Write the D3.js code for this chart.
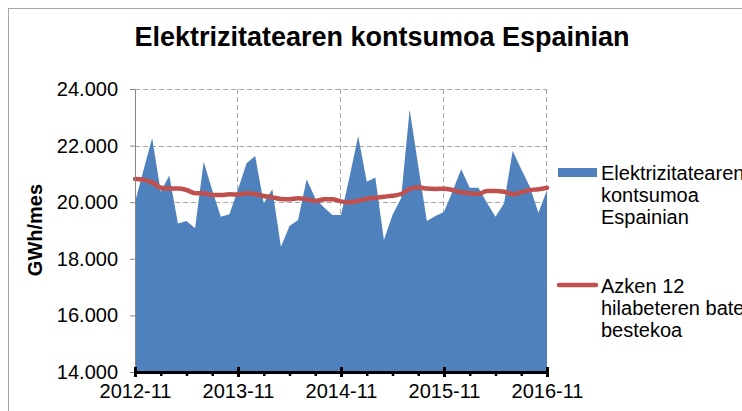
<!DOCTYPE html>
<html>
<head>
<meta charset="utf-8">
<script src="https://cdn.jsdelivr.net/npm/d3@7"></script>
<style>
  body { margin: 0; background: #fff; }
  svg text { font-family: Arial, "Liberation Sans", sans-serif; }
</style>
</head>
<body>
<div id="chart"></div>
<script>
// Monthly data, 2012-11 .. 2016-11
const months = [
  "2012-11","2012-12","2013-01","2013-02","2013-03","2013-04","2013-05","2013-06","2013-07","2013-08","2013-09","2013-10",
  "2013-11","2013-12","2014-01","2014-02","2014-03","2014-04","2014-05","2014-06","2014-07","2014-08","2014-09","2014-10",
  "2014-11","2014-12","2015-01","2015-02","2015-03","2015-04","2015-05","2015-06","2015-07","2015-08","2015-09","2015-10",
  "2015-11","2015-12","2016-01","2016-02","2016-03","2016-04","2016-05","2016-06","2016-07","2016-08","2016-09","2016-10",
  "2016-11"
];
const consumption = [
  20000, 21150, 22260, 20370, 20940, 19250, 19340, 19080, 21430, 20420, 19490, 19570,
  20450, 21380, 21630, 19960, 20460, 18430, 19160, 19370, 20810, 20140, 19820, 19550,
  19550, 20900, 22340, 20720, 20870, 18660, 19550, 20140, 23280, 21280, 19340, 19510,
  19650, 20390, 21160, 20510, 20510, 19980, 19490, 19960, 21820, 21160, 20550, 19630,
  20430
];
const average12 = [
  20820, 20790, 20700, 20510, 20480, 20480, 20430, 20315, 20315, 20254, 20254, 20280,
  20270, 20315, 20290, 20220, 20170, 20113, 20100, 20138, 20100, 20042, 20100, 20100,
  20030, 19995, 20050, 20125, 20160, 20195, 20230, 20290, 20467, 20525, 20480, 20470,
  20475, 20430, 20350, 20315, 20290, 20395, 20395, 20370, 20280, 20350, 20430, 20455,
  20510
];
const yTicks = [14000, 16000, 18000, 20000, 22000, 24000];
const yearTicks = ["2012-11", "2013-11", "2014-11", "2015-11", "2016-11"];
const minorTicks = months.filter(function (m, i) { return i % 3 === 0; });
const seriesNames = [["Elektrizitatearen", "kontsumoa", "Espainian"], ["Azken 12", "hilabeteren batez", "bestekoa"]];

const W = 742, H = 411;
const plot = { left: 135, right: 547, top: 89, bottom: 372 };

const svg = d3.select("#chart").append("svg")
  .attr("width", W).attr("height", H);

// outer chart border
svg.append("rect")
  .attr("x", 8.5).attr("y", 8.5)
  .attr("width", W).attr("height", H)
  .attr("fill", "none").attr("stroke", "#a6a6a6").attr("stroke-width", 1);

// title
svg.append("text")
  .attr("x", 382).attr("y", 46)
  .attr("text-anchor", "middle")
  .style("font-size", "27px").style("font-weight", "bold")
  .text("Elektrizitatearen kontsumoa Espainian");

var x = d3.scalePoint().domain(months).range([plot.left, plot.right]);
var y = d3.scaleLinear().domain([14000, 24000]).range([plot.bottom, plot.top]);

var fmt = d3.formatLocale({ decimal: ",", thousands: ".", grouping: [3], currency: ["", ""] }).format(",.0f");

// dashed gridlines
svg.append("g").selectAll("line").data(yTicks.slice(1)).enter().append("line")
  .attr("x1", plot.left).attr("x2", plot.right)
  .attr("y1", function (d) { return Math.round(y(d)) + 0.5; })
  .attr("y2", function (d) { return Math.round(y(d)) + 0.5; })
  .attr("stroke", "#a6a6a6").attr("stroke-dasharray", "5,3");
svg.append("g").selectAll("line").data(yearTicks.slice(1)).enter().append("line")
  .attr("x1", function (d) { return Math.round(x(d)) - 0.5; })
  .attr("x2", function (d) { return Math.round(x(d)) - 0.5; })
  .attr("y1", plot.top).attr("y2", plot.bottom)
  .attr("stroke", "#a6a6a6").attr("stroke-dasharray", "5,3");

// area
var area = d3.area()
  .x(function (d, i) { return x(months[i]); })
  .y0(plot.bottom)
  .y1(function (d) { return y(d); });
svg.append("path").datum(consumption)
  .attr("d", area).attr("fill", "#4f81bd");

// moving average line
var line = d3.line()
  .x(function (d, i) { return x(months[i]); })
  .y(function (d) { return y(d); })
  .curve(d3.curveMonotoneX);
svg.append("path").datum(average12)
  .attr("d", line).attr("fill", "none")
  .attr("stroke", "#c0504d").attr("stroke-width", 4.5)
  .attr("stroke-linejoin", "round").attr("stroke-linecap", "round");

// Y axis
var yAxis = svg.append("g")
  .attr("transform", "translate(" + plot.left + ",0)")
  .call(d3.axisLeft(y).tickValues(yTicks).tickFormat(fmt).tickSize(5).tickPadding(12));
yAxis.select(".domain").attr("stroke", "#868686");
yAxis.selectAll(".tick line").attr("stroke", "#868686");
yAxis.selectAll("text").style("font-size", "20px").attr("fill", "#000");

// X axis: minor ticks then major ticks with labels
var xMinor = svg.append("g")
  .attr("transform", "translate(0," + plot.bottom + ")")
  .call(d3.axisBottom(x).tickValues(minorTicks).tickFormat("").tickSize(4));
xMinor.select(".domain").attr("stroke", "#000").attr("stroke-width", 3);
xMinor.selectAll(".tick line").attr("stroke", "#000").attr("stroke-width", 2.5);

var xMajor = svg.append("g")
  .attr("transform", "translate(0," + plot.bottom + ")")
  .call(d3.axisBottom(x).tickValues(yearTicks).tickSize(5).tickPadding(7));
xMajor.select(".domain").remove();
xMajor.selectAll(".tick line").attr("y1", -5).attr("stroke", "#000").attr("stroke-width", 3);
xMajor.selectAll("text").style("font-size", "20px").attr("fill", "#000");

// Y title
svg.append("text")
  .attr("transform", "translate(42,230) rotate(-90)")
  .attr("text-anchor", "middle")
  .style("font-size", "20px").style("font-weight", "bold")
  .text("GWh/mes");

// legend
var lg = svg.append("g");
lg.append("rect").attr("x", 558).attr("y", 168).attr("width", 39).attr("height", 9).attr("fill", "#4f81bd");
lg.append("line").attr("x1", 559).attr("x2", 596).attr("y1", 285).attr("y2", 285)
  .attr("stroke", "#c0504d").attr("stroke-width", 4.5).attr("stroke-linecap", "round");
[180, 293].forEach(function (base, k) {
  lg.append("text").attr("x", 601).attr("y", base)
    .style("font-size", "20px")
    .selectAll("tspan").data(seriesNames[k]).enter().append("tspan")
    .attr("x", 601).attr("dy", function (d, i) { return i === 0 ? 0 : 22; })
    .text(function (d) { return d; });
});
</script>
</body>
</html>
